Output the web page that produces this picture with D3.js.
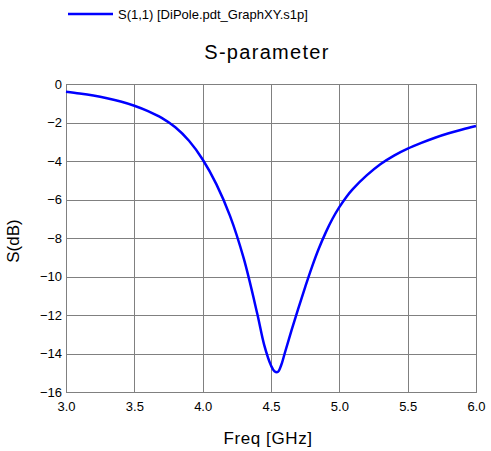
<!DOCTYPE html>
<html>
<head>
<meta charset="utf-8">
<script src="https://cdn.jsdelivr.net/npm/d3@7"></script>
<style>
  body { margin: 0; background: #fff; }
  svg { display: block; font-family: "Liberation Sans", Arial, sans-serif; }
</style>
</head>
<body>
<div id="chart"></div>
<script>
// S(1,1)
const freq = [3.0, 3.1, 3.2, 3.3, 3.4, 3.5, 3.6, 3.7, 3.8, 3.9, 4.0, 4.1, 4.2, 4.3,
  4.4, 4.45, 4.5, 4.525, 4.55, 4.575, 4.6, 4.65, 4.7, 4.75, 4.8, 4.85, 4.9, 4.95, 5.0,
  5.05, 5.1, 5.2, 5.3, 5.4, 5.5, 5.6, 5.7, 5.8, 5.9, 6.0];
const s11 = [-0.40, -0.49, -0.60, -0.74, -0.91, -1.13, -1.41, -1.76, -2.25, -2.95, -3.92, -5.20, -6.85, -9.05,
  -11.95, -13.55, -14.62, -14.92, -14.96, -14.60, -14.00, -12.80, -11.65, -10.55, -9.50, -8.55, -7.72, -7.00, -6.40,
  -5.88, -5.45, -4.75, -4.17, -3.72, -3.36, -3.06, -2.79, -2.56, -2.36, -2.18];
const xTicks = [3.0, 3.5, 4.0, 4.5, 5.0, 5.5, 6.0];
const yTicks = [0, -2, -4, -6, -8, -10, -12, -14, -16];
const seriesName = 'S(1,1) [DiPole.pdt_GraphXY.s1p]';

const W = 491, H = 451;
const m = { top: 84, right: 15, bottom: 59, left: 66 };
const w = W - m.left - m.right;
const h = H - m.top - m.bottom;

const svg = d3.select('#chart').append('svg')
  .attr('width', W)
  .attr('height', H);

const x = d3.scaleLinear().domain([3, 6]).range([0, w]);
const y = d3.scaleLinear().domain([-16, 0]).range([h, 0]);

const g = svg.append('g').attr('transform', `translate(${m.left},${m.top})`);

const xAxis = g.append('g')
  .attr('transform', `translate(0,${h})`)
  .call(d3.axisBottom(x).tickValues(xTicks).tickSize(-h).tickPadding(10).tickFormat(d3.format('.1f')));
const yAxis = g.append('g')
  .call(d3.axisLeft(y).tickValues(yTicks).tickSize(-w).tickPadding(4).tickFormat(d3.format('d')));

[xAxis, yAxis].forEach((ax) => {
  ax.select('.domain').remove();
  ax.selectAll('line').attr('stroke', '#808080').attr('shape-rendering', 'crispEdges');
  ax.selectAll('text').attr('fill', '#000').style('font-size', '13px');
});

g.append('rect')
  .attr('width', w).attr('height', h)
  .attr('fill', 'none').attr('stroke', '#808080')
  .attr('shape-rendering', 'crispEdges');

const line = d3.line()
  .x((d, i) => x(freq[i]))
  .y((d) => y(d))
  .curve(d3.curveCatmullRom.alpha(0.5));

g.append('path')
  .datum(s11)
  .attr('fill', 'none')
  .attr('stroke', '#0000ff')
  .attr('stroke-width', 2.5)
  .attr('d', line);

// legend
svg.append('line')
  .attr('x1', 68).attr('x2', 113).attr('y1', 14).attr('y2', 14)
  .attr('stroke', '#0000ff').attr('stroke-width', 2.5);
svg.append('text')
  .attr('x', 118).attr('y', 19)
  .style('font-size', '13px')
  .text(seriesName);

// titles
svg.append('text')
  .attr('x', 267).attr('y', 59)
  .attr('text-anchor', 'middle')
  .style('font-size', '20px')
  .style('letter-spacing', '1.3px')
  .text('S-parameter');

svg.append('text')
  .attr('x', 268).attr('y', 444)
  .attr('text-anchor', 'middle')
  .style('font-size', '17px')
  .style('letter-spacing', '0.6px')
  .text('Freq [GHz]');

svg.append('text')
  .attr('transform', 'translate(19,241) rotate(-90)')
  .attr('text-anchor', 'middle')
  .style('font-size', '17px')
  .text('S(dB)');
</script>
</body>
</html>
